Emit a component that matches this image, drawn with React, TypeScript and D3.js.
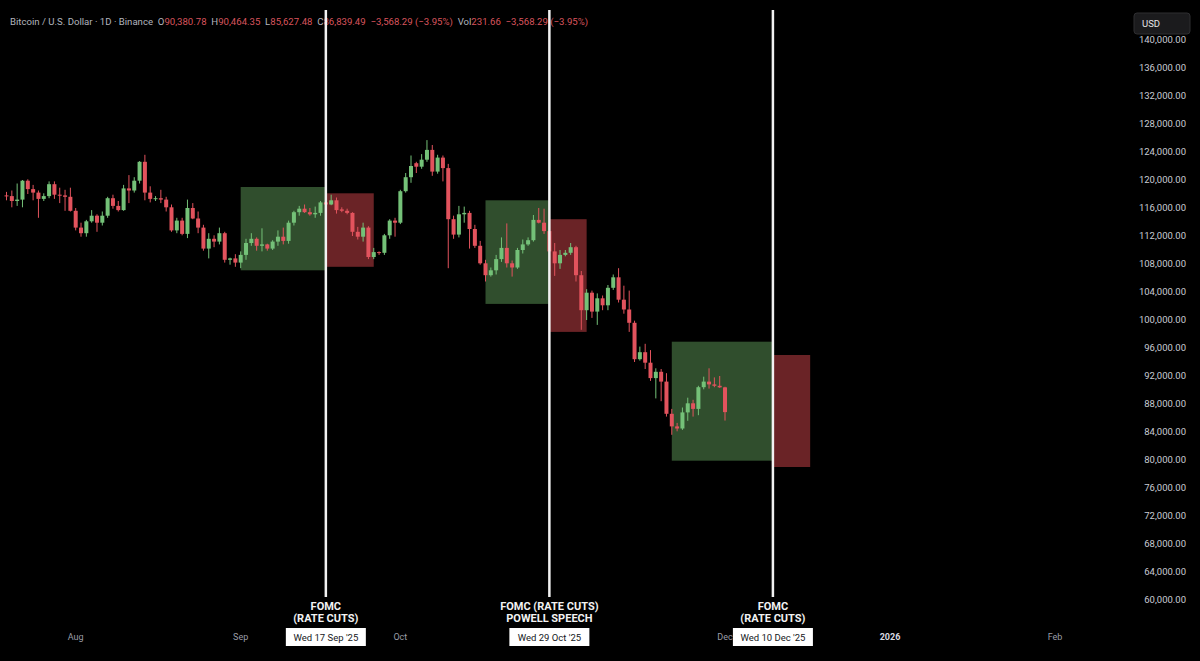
import React from "react";
import * as d3 from "d3";

// daily candles, Binance BTC/USD, prices in thousands of USD
const firstDay = "2025-07-19";

const opens = [
  117.8, 117.7, 117.0, 117.2, 119.9, 118.7, 118.2, 117.3, 117.7, 119.4, 117.9, 117.8, 117.6,
  115.6, 113.2, 112.4, 114.1, 114.9, 113.9, 114.9, 117.4, 116.3, 115.7, 118.8, 118.5, 119.9, 122.6, 118.2, 117.3,
  117.4, 117.2, 116.1, 112.8, 114.2, 112.3, 116.0, 114.5, 113.2, 110.2, 111.6, 111.2, 112.4, 108.6, 108.8,
  108.2, 109.3, 111.0, 111.6, 110.6, 110.8, 110.2, 111.2, 111.9, 111.3, 113.9, 115.4, 115.9, 115.4, 115.1,
  115.3, 116.8, 116.5, 117.1, 115.8, 115.6, 115.3, 112.6, 111.9, 113.2, 109.0, 109.7, 109.6, 112.1, 114.2,
  113.9, 118.4, 120.4, 122.4, 121.9, 122.9, 124.3, 121.2, 123.2, 121.7, 114.4, 112.2, 115.1, 115.3, 113.0,
  110.6, 108.1, 106.4, 107.1, 108.7, 110.3, 108.1, 107.5, 110.0, 110.8, 111.4, 114.3, 113.9, 112.7, 109.8, 108.1,
  109.3, 109.6, 110.4, 106.4, 101.4, 103.9, 101.2, 103.1, 102.1, 104.6, 106.1, 102.9, 101.5, 99.6, 94.4,
  95.4, 93.9, 91.7, 92.6, 91.2, 86.6, 84.8, 84.5, 86.8, 88.1, 87.3, 90.4, 91.2, 90.8, 90.6,
  90.38,
];
const highs = [
  118.3, 118.5, 119.5, 120.0, 120.1, 119.3, 118.5, 118.1, 119.8, 119.8, 118.9, 118.6, 118.9,
  116.0, 113.9, 114.3, 115.7, 115.1, 115.5, 117.6, 117.9, 117.0, 119.3, 120.7, 120.4, 122.7, 123.6, 119.1, 117.7,
  118.6, 117.6, 116.5, 114.6, 114.6, 117.2, 116.7, 115.5, 113.6, 112.4, 112.1, 113.2, 112.6, 108.9, 109.4,
  109.8, 111.6, 112.4, 111.8, 113.1, 110.9, 111.4, 112.8, 113.2, 114.2, 115.6, 116.3, 116.5, 116.0, 116.2,
  117.0, 117.4, 117.9, 117.5, 116.1, 115.9, 115.4, 113.3, 113.9, 113.4, 110.3, 109.8, 112.3, 114.4, 114.6,
  118.6, 121.0, 123.5, 122.6, 123.7, 125.7, 125.0, 123.6, 123.5, 122.3, 114.9, 116.3, 116.2, 115.6, 113.6,
  111.3, 108.6, 107.5, 109.3, 111.8, 113.8, 108.5, 110.3, 111.5, 111.8, 115.0, 116.0, 115.9, 113.5, 111.0, 110.0,
  110.0, 111.0, 110.6, 107.0, 104.4, 104.2, 103.8, 103.5, 105.0, 106.5, 107.4, 104.9, 104.2, 99.9, 96.2,
  96.6, 95.7, 93.1, 93.0, 92.4, 87.3, 85.3, 87.5, 88.9, 88.6, 90.6, 91.9, 93.1, 91.8, 92.0,
  90.46,
];
const lows = [
  117.1, 116.1, 116.3, 116.1, 118.0, 117.1, 114.6, 117.0, 117.4, 117.3, 116.7, 115.6, 115.5,
  112.8, 111.9, 111.9, 113.9, 112.6, 113.5, 114.6, 115.9, 115.5, 115.6, 116.7, 118.2, 119.5, 117.1, 116.8, 117.0,
  116.7, 115.5, 112.6, 112.4, 112.1, 111.7, 114.4, 112.4, 109.9, 108.8, 110.4, 110.8, 108.2, 107.9, 107.6,
  107.4, 108.6, 110.6, 109.9, 109.8, 109.9, 110.0, 110.6, 110.8, 110.9, 113.5, 114.9, 115.3, 114.9, 114.6,
  114.9, 114.8, 116.4, 115.2, 115.4, 115.1, 112.0, 111.5, 111.2, 108.7, 108.7, 109.3, 109.3, 111.6, 111.9,
  113.7, 118.2, 119.6, 121.0, 121.6, 122.6, 120.6, 120.9, 119.8, 107.4, 111.6, 111.8, 113.9, 110.2, 110.3,
  107.9, 105.5, 106.2, 106.5, 108.3, 107.5, 106.2, 107.3, 109.5, 110.6, 111.2, 113.8, 112.3, 109.5, 106.3, 107.3,
  109.1, 109.3, 105.5, 98.6, 100.0, 100.3, 99.3, 101.4, 101.4, 104.3, 102.5, 100.9, 98.3, 94.0, 94.2,
  93.0, 91.3, 88.8, 88.4, 86.2, 83.6, 84.1, 84.3, 85.6, 86.2, 86.4, 90.1, 90.2, 90.4, 90.3,
  85.63,
];
const closes = [
  117.7, 117.0, 117.2, 119.9, 118.7, 118.2, 117.3, 117.7, 119.4, 117.9, 117.8, 117.6, 115.6,
  113.2, 112.4, 114.1, 114.9, 113.9, 114.9, 117.4, 116.3, 115.7, 118.8, 118.5, 119.9, 122.6, 118.2, 117.3, 117.4,
  117.2, 116.1, 112.8, 114.2, 112.3, 116.0, 114.5, 113.2, 110.2, 111.6, 111.2, 112.4, 108.6, 108.8, 108.2,
  109.3, 111.0, 111.6, 110.6, 110.8, 110.2, 111.2, 111.9, 111.3, 113.9, 115.4, 115.9, 115.4, 115.1, 115.3,
  116.8, 116.5, 117.1, 115.7, 115.6, 115.3, 112.6, 111.9, 113.2, 109.0, 109.7, 109.6, 112.1, 114.2, 113.9,
  118.4, 120.4, 122.0, 121.9, 122.9, 124.3, 121.2, 123.2, 121.7, 114.4, 112.2, 115.1, 115.3, 113.0, 110.6,
  108.1, 106.4, 107.1, 108.7, 110.3, 108.1, 107.5, 110.0, 110.8, 111.4, 114.3, 113.9, 112.7, 109.8, 108.1, 109.3,
  109.6, 110.4, 106.4, 101.4, 103.9, 101.2, 103.1, 102.1, 104.6, 106.1, 102.9, 101.5, 99.6, 94.4, 95.4,
  93.9, 91.7, 92.6, 91.2, 86.6, 84.8, 84.5, 86.8, 88.1, 87.3, 90.4, 91.2, 90.8, 90.6, 90.38,
  86.84,
];

// shaded zones around the FOMC dates (thousands of USD)
const zoneStarts = ["2025-09-01", "2025-09-17", "2025-10-17", "2025-10-29", "2025-11-21", "2025-12-10"];
const zoneEnds = ["2025-09-17", "2025-09-26", "2025-10-29", "2025-11-05", "2025-12-10", "2025-12-17"];
const zoneTops = [119.0, 118.1, 117.1, 114.4, 96.9, 95.0];
const zoneBottoms = [107.1, 107.6, 102.3, 98.3, 79.9, 79.0];
const zoneKinds = ["up", "down", "up", "down", "up", "down"];

const eventDates = ["2025-09-17", "2025-10-29", "2025-12-10"];
const eventTitles = [["FOMC", "(RATE CUTS)"], ["FOMC (RATE CUTS)", "POWELL SPEECH"], ["FOMC", "(RATE CUTS)"]];
const eventDateLabels = ["Wed 17 Sep '25", "Wed 29 Oct '25", "Wed 10 Dec '25"];

// "Nov" sits under the Oct 29 date tag in the picture, so it is not listed
const monthDates = ["2025-08-01", "2025-09-01", "2025-10-01", "2025-12-01", "2026-01-01", "2026-02-01"];
const monthLabels = ["Aug", "Sep", "Oct", "Dec", "2026", "Feb"];

const priceTicks = d3.range(60, 141, 4);

const header = [
  { t: "Bitcoin / U.S. Dollar · 1D · Binance", c: "grey" },
  { t: "  O", c: "grey" }, { t: "90,380.78", c: "red" },
  { t: "  H", c: "grey" }, { t: "90,464.35", c: "red" },
  { t: "  L", c: "grey" }, { t: "85,627.48", c: "red" },
  { t: "  C", c: "grey" }, { t: "86,839.49", c: "red" },
  { t: "  −3,568.29 (−3.95%)", c: "red" },
  { t: "  Vol", c: "grey" }, { t: "231.66", c: "red" },
  { t: "  −3,568.29 (−3.95%)", c: "red" },
];

const parse = d3.utcParse("%Y-%m-%d");

export default function App() {
  const width = 1200;
  const height = 661;
  const font = "Roboto, 'Noto Sans', sans-serif";

  const green = "#74c178";
  const red = "#e2535d";
  const grey = "#b2b5be";

  const x = d3.scaleUtc()
    .domain([parse("2025-08-01"), parse("2026-01-01")])
    .range([75.7, 890]);
  const y = d3.scaleLinear().domain([60, 140]).range([600, 40]);

  const start = parse(firstDay);
  const candles = closes.map((c, i) => ({
    date: d3.utcDay.offset(start, i),
    o: opens[i], h: highs[i], l: lows[i], c,
  }));

  const zones = zoneStarts.map((s, i) => ({
    x0: x(parse(s)), x1: x(parse(zoneEnds[i])),
    y0: y(zoneTops[i]), y1: y(zoneBottoms[i]),
    kind: zoneKinds[i],
  }));

  const bodyW = 4;
  const fmt = d3.format(",.2f");

  return (
    <svg
      width={width}
      height={height}
      style={{ position: "absolute", left: 0, top: 0, background: "#000" }}
      fontFamily={font}
    >
      <rect width={width} height={height} fill="#000" />

      {zones.map((z, i) => (
        <rect
          key={`z${i}`}
          x={z.x0}
          y={z.y0}
          width={z.x1 - z.x0}
          height={z.y1 - z.y0}
          fill={z.kind === "up" ? "#304e2d" : "#6a2326"}
        />
      ))}

      {candles.map((d, i) => {
        const cx = x(d.date);
        const up = d.c >= d.o;
        const col = up ? green : red;
        const top = y(Math.max(d.o, d.c));
        const bot = y(Math.min(d.o, d.c));
        return (
          <g key={`c${i}`}>
            <line x1={cx} x2={cx} y1={y(d.h)} y2={y(d.l)} stroke={col} strokeWidth={1} />
            <rect x={cx - bodyW / 2} y={top} width={bodyW} height={Math.max(1, bot - top)} fill={col} />
          </g>
        );
      })}

      {/* price axis */}
      {priceTicks.map((v) => (
        <text key={`p${v}`} x={1186} y={y(v) + 3} textAnchor="end" fontSize={9.5} fill="#c9ccd4">
          {fmt(v * 1000)}
        </text>
      ))}
      <rect x={1134} y={13} width={56} height={21} rx={3} fill="#1b1b1d" stroke="#2e2e31" />
      <text x={1142} y={27} fontSize={9.5} fill="#e6e6e6">USD</text>

      {/* time axis */}
      {monthDates.map((m, i) => (
        <text
          key={`m${i}`}
          x={x(parse(m))}
          y={640}
          textAnchor="middle"
          fontSize={9}
          fontWeight={monthLabels[i] === "2026" ? 700 : 400}
          fill={monthLabels[i] === "2026" ? "#d8dae0" : "#9a9da6"}
        >
          {monthLabels[i]}
        </text>
      ))}

      {/* legend line */}
      <text x={10} y={25} fontSize={9.6}>
        {header.map((h, i) => (
          <tspan key={`h${i}`} fill={h.c === "red" ? "#d9545d" : grey} style={{ whiteSpace: "pre" }}>
            {h.t}
          </tspan>
        ))}
      </text>

      {/* event markers */}
      {eventDates.map((e, i) => {
        const ex = x(parse(e));
        return (
          <g key={`e${i}`}>
            <line x1={ex} x2={ex} y1={10} y2={597} stroke="#f2f2f2" strokeWidth={2.5} />
            {eventTitles[i].map((t, j) => (
              <text
                key={j}
                x={ex}
                y={609.5 + j * 12.5}
                textAnchor="middle"
                fontSize={11}
                fontWeight={700}
                fill="#f2f2f2"
              >
                {t}
              </text>
            ))}
            <rect x={ex - 40} y={628} width={80} height={18} fill="#ffffff" />
            <text x={ex} y={641} textAnchor="middle" fontSize={9.5} fill="#131722">
              {eventDateLabels[i]}
            </text>
          </g>
        );
      })}
    </svg>
  );
}
